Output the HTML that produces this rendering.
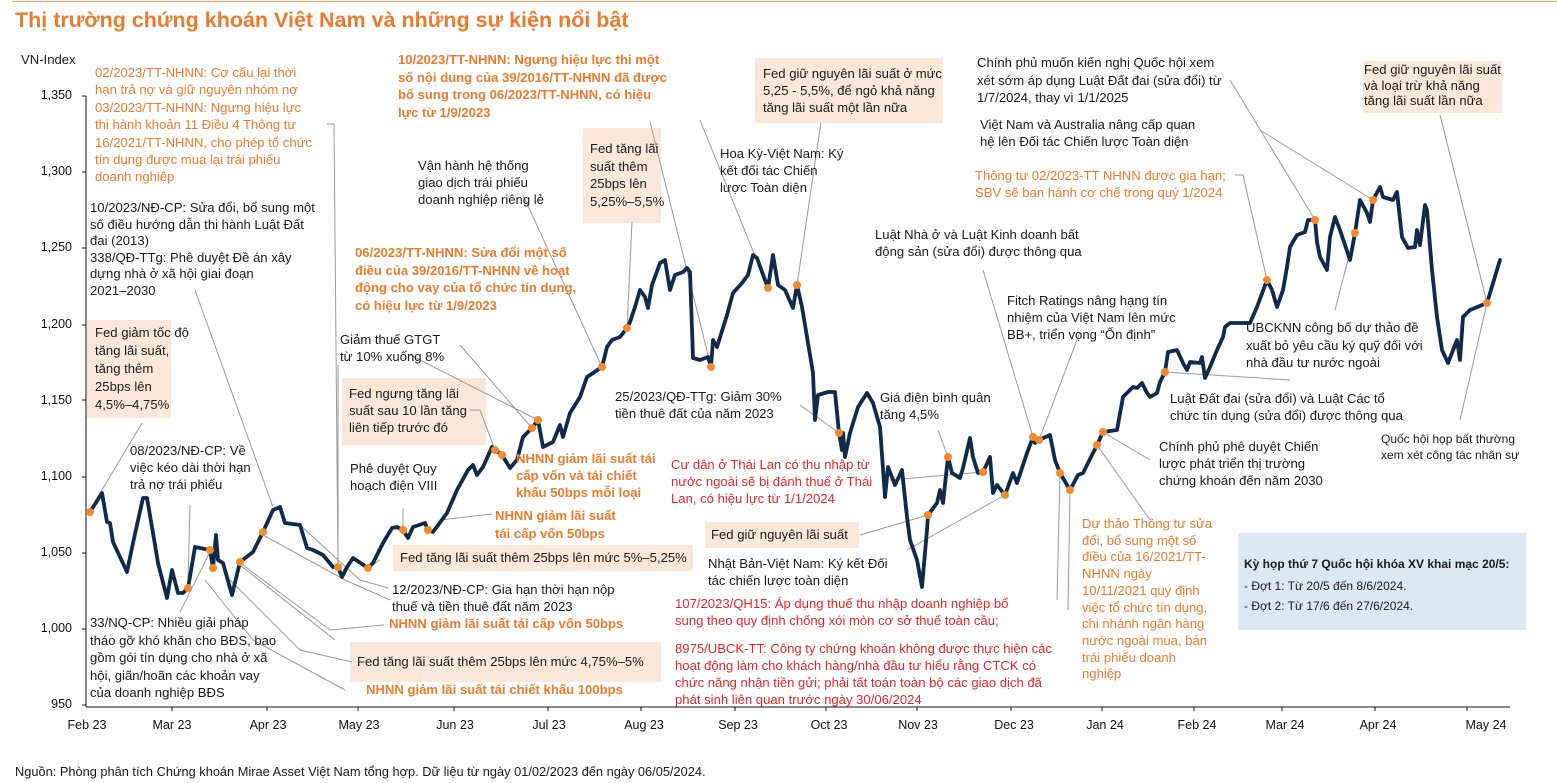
<!DOCTYPE html>
<html><head><meta charset="utf-8"><style>
body{margin:0;background:#fff;}
#c{position:relative;width:1557px;height:783px;overflow:hidden;font-family:"Liberation Sans","Noto Sans CJK SC",sans-serif;}
.t{position:absolute;font-size:13.1px;line-height:16.6px;white-space:pre;color:#1a1a1a;letter-spacing:0px;}
.o{color:#ee7b2c;}
.ob{color:#ee7b2c;font-weight:bold;}
.r{color:#e8262a;}
.bx{position:absolute;background:#fce8d8;}
.yl{position:absolute;font-size:12.5px;color:#111;width:60px;text-align:right;left:12px;}
.xl{position:absolute;font-size:12.5px;color:#111;top:718px;width:60px;text-align:center;}
</style></head><body><div id="c">
<div style="position:absolute;left:12px;top:1px;width:1545px;height:1px;background:#f0a060"></div>
<div style="position:absolute;left:15px;top:8px;font-size:21.5px;font-weight:bold;color:#ee7b2c;">Thị trường chứng khoán Việt Nam và những sự kiện nổi bật</div>
<div class="t" style="left:21px;top:52px">VN-Index</div>

<div class="bx" style="left:87px;top:320px;width:84px;height:98px"></div>
<div class="bx" style="left:583px;top:128px;width:78px;height:95px"></div>
<div class="bx" style="left:755px;top:58px;width:188px;height:65px"></div>
<div class="bx" style="left:342px;top:378px;width:144px;height:67px"></div>
<div class="bx" style="left:393px;top:545px;width:300px;height:26px"></div>
<div class="bx" style="left:350px;top:642px;width:311px;height:40px"></div>
<div class="bx" style="left:705px;top:522px;width:154px;height:26px"></div>
<div class="bx" style="left:1363px;top:61px;width:139px;height:52px"></div>
<div style="position:absolute;left:1238px;top:533px;width:288px;height:97px;background:#dce9f5"></div>

<div class="yl" style="top:88px">1,350</div>
<div class="yl" style="top:164px">1,300</div>
<div class="yl" style="top:240px">1,250</div>
<div class="yl" style="top:317px">1,200</div>
<div class="yl" style="top:393px">1,150</div>
<div class="yl" style="top:469px">1,100</div>
<div class="yl" style="top:545px">1,050</div>
<div class="yl" style="top:621px">1,000</div>
<div class="yl" style="top:697px">950</div>

<div class="xl" style="left:57px">Feb 23</div>
<div class="xl" style="left:142px">Mar 23</div>
<div class="xl" style="left:238px">Apr 23</div>
<div class="xl" style="left:329px">May 23</div>
<div class="xl" style="left:425px">Jun 23</div>
<div class="xl" style="left:519px">Jul 23</div>
<div class="xl" style="left:614px">Aug 23</div>
<div class="xl" style="left:708px">Sep 23</div>
<div class="xl" style="left:799px">Oct 23</div>
<div class="xl" style="left:888px">Nov 23</div>
<div class="xl" style="left:984px">Dec 23</div>
<div class="xl" style="left:1075px">Jan 24</div>
<div class="xl" style="left:1167px">Feb 24</div>
<div class="xl" style="left:1255px">Mar 24</div>
<div class="xl" style="left:1348px">Apr 24</div>
<div class="xl" style="left:1456px">May 24</div>

<svg width="1557" height="783" style="position:absolute;left:0;top:0">
<g stroke="#9a9a9a" stroke-width="1" fill="none">
<polyline points="327,124 334,124 338,567"/>
<polyline points="142,423 90,510"/>
<polyline points="195,290 273,507"/>
<polyline points="190,505 188,583"/>
<polyline points="180,612 210,552"/>
<polyline points="205,580 253,640 345,690"/>
<polyline points="230,580 300,650 352,662"/>
<polyline points="243,565 330,630 384,625"/>
<polyline points="263,535 345,580 390,600"/>
<polyline points="240,565 335,640"/>
<polyline points="300,525 360,580 388,588"/>
<polyline points="338,365 338,567"/>
<polyline points="460,345 532,428"/>
<polyline points="410,355 538,420"/>
<polyline points="470,410 480,410 495,450"/>
<polyline points="440,520 492,514"/>
<polyline points="380,560 368,568"/>
<polyline points="403,508 403,530"/>
<polyline points="511,470 502,455"/>
<polyline points="523,195 602,367"/>
<polyline points="632,222 627,328"/>
<polyline points="650,122 711,367"/>
<polyline points="700,120 768,288"/>
<polyline points="821,122 797,285"/>
<polyline points="800,405 839,433"/>
<polyline points="860,535 928,515"/>
<polyline points="948,457 938,430"/>
<polyline points="890,480 983,472"/>
<polyline points="907,550 1005,495"/>
<polyline points="983,270 1033,437"/>
<polyline points="1080,332 1039,440"/>
<polyline points="1060,473 1057,600"/>
<polyline points="1070,490 1068,610"/>
<polyline points="1097,445 1150,520"/>
<polyline points="1103,432 1150,460"/>
<polyline points="1165,372 1290,380"/>
<polyline points="1235,175 1243,175 1267,280"/>
<polyline points="1230,80 1315,220"/>
<polyline points="1260,130 1373,200"/>
<polyline points="1335,310 1355,233"/>
<polyline points="1440,115 1487,303 1460,420"/>
</g>
<g stroke="#111" stroke-width="1">
<line x1="86" y1="96" x2="86" y2="707"/>
<line x1="86" y1="707" x2="1510" y2="707"/>
<line x1="82" y1="96" x2="86" y2="96"/><line x1="82" y1="172" x2="86" y2="172"/><line x1="82" y1="248" x2="86" y2="248"/><line x1="82" y1="325" x2="86" y2="325"/><line x1="82" y1="400" x2="86" y2="400"/><line x1="82" y1="477" x2="86" y2="477"/><line x1="82" y1="553" x2="86" y2="553"/><line x1="82" y1="629" x2="86" y2="629"/><line x1="82" y1="705" x2="86" y2="705"/>
<g transform="translate(0,707)"><line x1="172" y1="0" x2="172" y2="4"/><line x1="267" y1="0" x2="267" y2="4"/><line x1="358" y1="0" x2="358" y2="4"/><line x1="454" y1="0" x2="454" y2="4"/><line x1="548" y1="0" x2="548" y2="4"/><line x1="641" y1="0" x2="641" y2="4"/><line x1="735" y1="0" x2="735" y2="4"/><line x1="826" y1="0" x2="826" y2="4"/><line x1="917" y1="0" x2="917" y2="4"/><line x1="1011" y1="0" x2="1011" y2="4"/><line x1="1102" y1="0" x2="1102" y2="4"/><line x1="1194" y1="0" x2="1194" y2="4"/><line x1="1282" y1="0" x2="1282" y2="4"/><line x1="1375" y1="0" x2="1375" y2="4"/><line x1="1467" y1="0" x2="1467" y2="4"/></g>
</g>
<polyline fill="none" stroke="#0f2a4a" stroke-width="3.8" stroke-linejoin="round" stroke-linecap="round" points="
90,512 102,493 107,522 110,523 113,542 127,572 133,543 143,498 147,498 152,527 158,563 167,598 172,570 178,593 183,593 188,588 195,547 200,548 210,550 213,568 216,535 218,560 223,563 232,595 240,562 253,552 263,532 273,510 280,507 285,523 300,525 307,548 313,550 323,555 333,567 338,567 342,577 347,567 353,558 368,568 373,563 383,543 392,528 397,527 403,530 408,538 413,527 425,523 428,530 433,532 447,513 457,490 468,470 473,465 477,475 483,467 492,447 495,450 502,455 510,468 517,460 523,437 532,428 538,420 543,447 553,442 560,425 563,437 570,413 580,397 587,377 602,367 607,347 612,340 620,337 627,328 630,322 635,307 640,290 645,297 648,308 652,285 660,263 665,260 670,290 675,275 683,272 687,268 690,272 693,358 700,360 708,357 711,367 713,340 717,347 727,315 733,293 742,283 748,275 753,255 757,258 762,272 768,288 773,255 778,285 785,290 793,308 797,285 802,307 813,373 815,420 818,395 828,392 835,392 839,433 842,450 843,433 845,457 850,433 858,407 867,393 873,403 880,427 885,497 888,467 895,485 902,470 907,517 910,540 917,560 922,587 927,530 928,515 937,503 940,490 943,503 948,457 952,473 960,478 963,468 970,438 973,457 978,473 983,472 990,457 993,493 997,485 1005,495 1013,473 1017,483 1027,453 1033,437 1035,443 1039,440 1050,435 1055,460 1060,473 1070,490 1078,475 1083,473 1097,445 1103,432 1117,430 1123,397 1133,387 1137,388 1142,383 1147,393 1150,397 1157,393 1160,382 1165,372 1168,352 1177,350 1183,363 1187,370 1190,362 1200,363 1202,357 1205,378 1210,367 1217,350 1223,337 1225,327 1230,323 1250,323 1257,307 1267,280 1272,290 1277,307 1283,290 1287,267 1290,247 1297,235 1305,232 1308,220 1315,220 1317,242 1320,257 1327,270 1330,237 1335,217 1340,230 1350,260 1355,233 1360,200 1367,213 1370,222 1373,200 1380,187 1383,197 1393,200 1397,192 1402,237 1408,248 1415,247 1417,230 1420,245 1425,205 1427,210 1432,270 1437,317 1442,350 1448,363 1457,340 1460,360 1463,317 1470,310 1487,303 1500,260"/>
<g fill="#f5892b">
<circle cx="90" cy="512" r="4"/><circle cx="188" cy="588" r="4"/><circle cx="210" cy="550" r="4"/><circle cx="213" cy="568" r="4"/><circle cx="240" cy="562" r="4"/><circle cx="263" cy="532" r="4"/><circle cx="338" cy="567" r="4"/><circle cx="368" cy="568" r="4"/><circle cx="403" cy="530" r="4"/><circle cx="428" cy="530" r="4"/><circle cx="495" cy="450" r="4"/><circle cx="502" cy="455" r="4"/><circle cx="532" cy="428" r="4"/><circle cx="538" cy="420" r="4"/><circle cx="602" cy="367" r="4"/><circle cx="627" cy="328" r="4"/><circle cx="711" cy="367" r="4"/><circle cx="768" cy="288" r="4"/><circle cx="797" cy="285" r="4"/><circle cx="839" cy="433" r="4"/><circle cx="928" cy="515" r="4"/><circle cx="948" cy="457" r="4"/><circle cx="983" cy="472" r="4"/><circle cx="1005" cy="495" r="4"/><circle cx="1033" cy="437" r="4"/><circle cx="1039" cy="440" r="4"/><circle cx="1060" cy="473" r="4"/><circle cx="1070" cy="490" r="4"/><circle cx="1097" cy="445" r="4"/><circle cx="1103" cy="432" r="4"/><circle cx="1165" cy="372" r="4"/><circle cx="1267" cy="280" r="4"/><circle cx="1315" cy="220" r="4"/><circle cx="1355" cy="233" r="4"/><circle cx="1373" cy="200" r="4"/><circle cx="1487" cy="303" r="4"/>
</g>
</svg>

<div class="t o" style="left:95px;top:64px;line-height:17.4px">02/2023/TT-NHNN: Cơ cấu lại thời
hạn trả nợ và giữ nguyên nhóm nợ
03/2023/TT-NHNN: Ngưng hiệu lực
thi hành khoản 11 Điều 4 Thông tư
16/2021/TT-NHNN, cho phép tổ chức
tín dụng được mua lại trái phiếu
doanh nghiệp</div>
<div class="t" style="left:90px;top:200px">10/2023/NĐ-CP: Sửa đổi, bổ sung một
số điều hướng dẫn thi hành Luật Đất
đai (2013)
338/QĐ-TTg: Phê duyệt Đề án xây
dựng nhà ở xã hội giai đoạn
2021–2030</div>
<div class="t" style="left:95px;top:324px;line-height:18px">Fed giảm tốc độ
tăng lãi suất,
tăng thêm
25bps lên
4,5%–4,75%</div>
<div class="t" style="left:130px;top:442px;line-height:17px">08/2023/NĐ-CP: Về
việc kéo dài thời hạn
trả nợ trái phiếu</div>
<div class="t" style="left:90px;top:614px;line-height:17.5px">33/NQ-CP: Nhiều giải pháp
tháo gỡ khó khăn cho BĐS, bao
gồm gói tín dụng cho nhà ở xã
hội, giãn/hoãn các khoản vay
của doanh nghiệp BĐS</div>
<div class="t ob" style="left:398px;top:51px;line-height:17.5px">10/2023/TT-NHNN: Ngưng hiệu lực thi một
số nội dung của 39/2016/TT-NHNN đã được
bổ sung trong 06/2023/TT-NHNN, có hiệu
lực từ 1/9/2023</div>
<div class="t" style="left:418px;top:157px;line-height:17px">Vận hành hệ thống
giao dịch trái phiếu
doanh nghiệp riêng lẻ</div>
<div class="t" style="left:590px;top:140px;line-height:17.5px">Fed tăng lãi
suất thêm
25bps lên
5,25%–5,5%</div>
<div class="t" style="left:763px;top:65px;line-height:17px">Fed giữ nguyên lãi suất ở mức
5,25 - 5,5%, để ngỏ khả năng
tăng lãi suất một lần nữa</div>
<div class="t" style="left:720px;top:145px;line-height:17px">Hoa Kỳ-Việt Nam: Ký
kết đối tác Chiến
lược Toàn diện</div>
<div class="t ob" style="left:355px;top:244px;line-height:17.5px">06/2023/TT-NHNN: Sửa đổi một số
điều của 39/2016/TT-NHNN về hoạt
động cho vay của tổ chức tín dụng,
có hiệu lực từ 1/9/2023</div>
<div class="t" style="left:340px;top:331px;line-height:17px">Giảm thuế GTGT
từ 10% xuống 8%</div>
<div class="t" style="left:349px;top:385px;line-height:17px">Fed ngưng tăng lãi
suất sau 10 lần tăng
liên tiếp trước đó</div>
<div class="t" style="left:350px;top:460px;line-height:17px">Phê duyệt Quy
hoạch điện VIII</div>
<div class="t ob" style="left:516px;top:450px;line-height:17px">NHNN giảm lãi suất tái
cấp vốn và tái chiết
khấu 50bps mỗi loại</div>
<div class="t ob" style="left:495px;top:507px;line-height:18px">NHNN giảm lãi suất
tái cấp vốn 50bps</div>
<div class="t" style="left:400px;top:550px">Fed tăng lãi suất thêm 25bps lên mức 5%–5,25%</div>
<div class="t" style="left:392px;top:581px;line-height:17px">12/2023/NĐ-CP: Gia hạn thời hạn nộp
thuế và tiền thuê đất năm 2023</div>
<div class="t ob" style="left:389px;top:616px">NHNN giảm lãi suất tái cấp vốn 50bps</div>
<div class="t" style="left:357px;top:654px">Fed tăng lãi suất thêm 25bps lên mức 4,75%–5%</div>
<div class="t ob" style="left:366px;top:682px">NHNN giảm lãi suất tái chiết khấu 100bps</div>
<div class="t" style="left:615px;top:388px;line-height:17px">25/2023/QĐ-TTg: Giảm 30%
tiền thuê đất của năm 2023</div>
<div class="t r" style="left:671px;top:456px;line-height:17px">Cư dân ở Thái Lan có thu nhập từ
nước ngoài sẽ bị đánh thuế ở Thái
Lan, có hiệu lực từ 1/1/2024</div>
<div class="t" style="left:711px;top:527px">Fed giữ nguyên lãi suất</div>
<div class="t" style="left:708px;top:555px;line-height:17px">Nhật Bản-Việt Nam: Ký kết Đối
tác chiến lược toàn diện</div>
<div class="t r" style="left:675px;top:595px;line-height:17px">107/2023/QH15: Áp dụng thuế thu nhập doanh nghiệp bổ
sung theo quy định chống xói mòn cơ sở thuế toàn cầu;</div>
<div class="t r" style="left:675px;top:640px;line-height:17px">8975/UBCK-TT: Công ty chứng khoán không được thực hiện các
hoạt động làm cho khách hàng/nhà đầu tư hiểu rằng CTCK có
chức năng nhận tiền gửi; phải tất toán toàn bộ các giao dịch đã
phát sinh liên quan trước ngày 30/06/2024</div>
<div class="t" style="left:880px;top:389px;line-height:17px">Giá điện bình quân
tăng 4,5%</div>
<div class="t" style="left:875px;top:226px;line-height:17px">Luật Nhà ở và Luật Kinh doanh bất
động sản (sửa đổi) được thông qua</div>
<div class="t" style="left:1007px;top:292px;line-height:17px">Fitch Ratings nâng hạng tín
nhiệm của Việt Nam lên mức
BB+, triển vọng “Ổn định”</div>
<div class="t" style="left:977px;top:54px;line-height:17.5px">Chính phủ muốn kiến nghị Quốc hội xem
xét sớm áp dụng Luật Đất đai (sửa đổi) từ
1/7/2024, thay vì 1/1/2025</div>
<div class="t" style="left:980px;top:116px;line-height:17px">Việt Nam và Australia nâng cấp quan
hệ lên Đối tác Chiến lược Toàn diện</div>
<div class="t o" style="left:975px;top:167px;line-height:17px">Thông tư 02/2023-TT NHNN được gia hạn;
SBV sẽ ban hành cơ chế trong quý 1/2024</div>
<div class="t" style="left:1364px;top:62px;line-height:15.5px">Fed giữ nguyên lãi suất
và loại trừ khả năng
tăng lãi suất lần nữa</div>
<div class="t" style="left:1246px;top:319px;line-height:17.5px">UBCKNN công bố dự thảo đề
xuất bỏ yêu cầu ký quỹ đối với
nhà đầu tư nước ngoài</div>
<div class="t" style="left:1170px;top:390px;line-height:17px">Luật Đất đai (sửa đổi) và Luật Các tổ
chức tín dụng (sửa đổi) được thông qua</div>
<div class="t" style="left:1381px;top:432px;font-size:12px;line-height:15.5px">Quốc hội họp bất thường
xem xét công tác nhân sự</div>
<div class="t" style="left:1159px;top:438px;line-height:17px">Chính phủ phê duyệt Chiến
lược phát triển thị trường
chứng khoán đến năm 2030</div>
<div class="t o" style="left:1082px;top:516px;line-height:16.7px">Dự thảo Thông tư sửa
đổi, bổ sung một số
điều của 16/2021/TT-
NHNN ngày
10/11/2021 quy định
việc tổ chức tín dụng,
chi nhánh ngân hàng
nước ngoài mua, bán
trái phiếu doanh
nghiệp</div>
<div class="t" style="left:1244px;top:556px;font-size:12px;font-weight:bold">Kỳ họp thứ 7 Quốc hội khóa XV khai mạc 20/5:</div>
<div class="t" style="left:1244px;top:578px;font-size:12px">- Đợt 1: Từ 20/5 đến 8/6/2024.</div>
<div class="t" style="left:1244px;top:598px;font-size:12px">- Đợt 2: Từ 17/6 đến 27/6/2024.</div>
<div class="t" style="left:15px;top:764px;font-size:12.8px">Nguồn: Phòng phân tích Chứng khoán Mirae Asset Việt Nam tổng hợp. Dữ liệu từ ngày 01/02/2023 đến ngày 06/05/2024.</div>
</div></body></html>
